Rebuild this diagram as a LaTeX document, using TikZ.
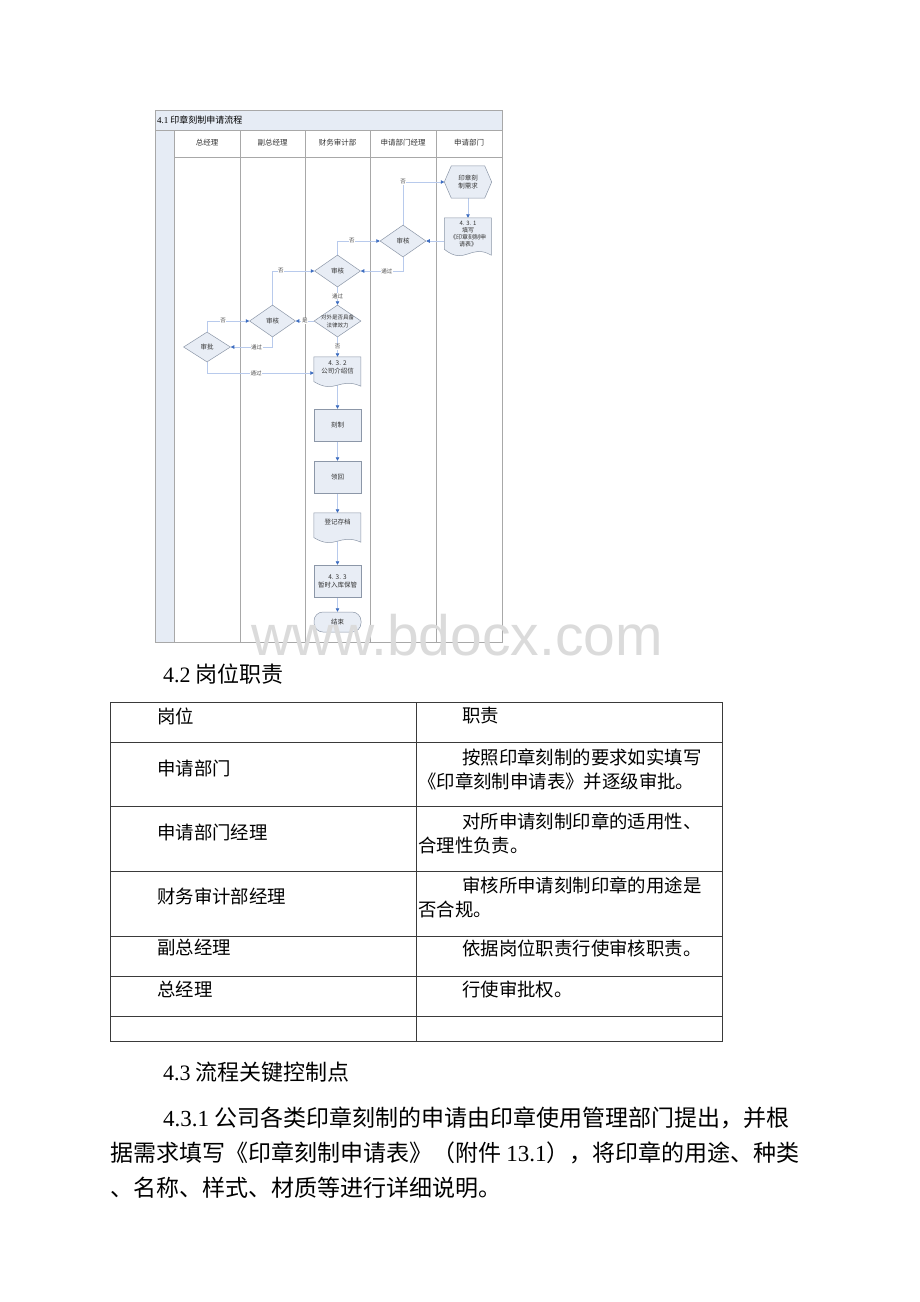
\documentclass[tikz,border=0pt]{standalone}
\usepackage{fontspec}
\setmainfont{Noto Sans CJK SC}
\newfontfamily\latn{Liberation Serif}
\newfontfamily\wmfont{Liberation Sans}
\usetikzlibrary{shapes.geometric,arrows.meta,calc}
\definecolor{shpfill}{HTML}{E8EDF5}
\definecolor{shpdraw}{HTML}{8C97A8}
\definecolor{connc}{HTML}{B8CAEC}
\definecolor{arrc}{HTML}{3C6CC0}
\definecolor{lanec}{HTML}{A8A8A8}
\definecolor{bandc}{HTML}{E6ECF5}
\definecolor{tblc}{HTML}{3A3A3A}
\pgfdeclarelayer{back}
\pgfdeclarelayer{bg}
\pgfdeclarelayer{mid}
\pgfsetlayers{back,bg,mid,main}
\newcommand\docshape[2]{%
  \begin{pgfonlayer}{mid}
  \begin{scope}[shift={(#1.north west)}]
  \draw[draw=shpdraw, fill=shpfill, line width=0.5pt] (0,0) -- (47,0) -- (47,{0.89*#2})
     .. controls ({0.55*47},{0.6*#2}) and ({0.45*47},{1.15*#2}) .. (0,{0.75*#2}) -- cycle;
  \end{scope}
  \end{pgfonlayer}}
\begin{document}
\begin{tikzpicture}[x=1pt,y=-1pt,
  ftxt/.style={font=\fontsize{6.5}{8}\selectfont, text=black!80, align=center, inner sep=0pt},
  box/.style={ftxt, draw=shpdraw, fill=shpfill, minimum width=47pt, minimum height=32pt, line width=0.5pt},
  dia/.style={ftxt, diamond, draw=shpdraw, fill=shpfill, minimum width=46pt, minimum height=32pt, line width=0.5pt},
  docn/.style={ftxt, minimum width=47pt},
  conn/.style={draw=connc, line width=0.55pt, -{Triangle[length=3.5pt,width=3.5pt,color=arrc]}},
  lab/.style={font=\fontsize{5.5}{6}\selectfont, text=black!70, fill=white, inner sep=0.6pt},
  hdr/.style={font=\fontsize{7.5}{9}\selectfont, text=black!80},
  tt/.style={font=\fontsize{18.4}{22}\selectfont, anchor=west, inner sep=0pt},
  bt/.style={font=\fontsize{23}{28}\selectfont, anchor=west, inner sep=0pt},
  tline/.style={draw=tblc, line width=0.9pt}
]
\useasboundingbox (0,0) rectangle (920,1302);
\begin{pgfonlayer}{back}
\fill[white] (0,0) rectangle (920,1302);
% ---------- flowchart frame ----------
\fill[bandc] (155,110) rectangle (502,130);
\fill[bandc] (155,130) rectangle (174,642);
\draw[lanec, line width=0.6pt] (155,110) rectangle (502,642);
\draw[lanec, line width=0.6pt] (155,130) -- (502,130);
\draw[lanec, line width=0.6pt] (174,157) -- (502,157);
\foreach \xx in {174,240,305,370,436} \draw[lanec, line width=0.6pt] (\xx,130) -- (\xx,642);
\end{pgfonlayer}
\node[anchor=west, inner sep=0pt, font=\fontsize{9}{10}\selectfont] (title) at (157,120) {{\latn 4.1} 印章刻制申请流程};
\node[hdr] (h1) at (207,143) {总经理};
\node[hdr] (h2) at (272.5,143) {副总经理};
\node[hdr] (h3) at (337.5,143) {财务审计部};
\node[hdr] (h4) at (403,143) {申请部门经理};
\node[hdr] (h5) at (469,143) {申请部门};

% ---------- nodes ----------
\node[ftxt, minimum width=47pt, minimum height=32pt] (hex) at (468,182) {印章刻\\制需求};
\begin{pgfonlayer}{mid}
\draw[draw=shpdraw, fill=shpfill, line width=0.5pt] (hex.west) -- ([xshift=7pt]hex.north west) -- ([xshift=-7pt]hex.north east) -- (hex.east) -- ([xshift=-7pt]hex.south east) -- ([xshift=7pt]hex.south west) -- cycle;
\end{pgfonlayer}
\node[docn, minimum height=40pt, font=\fontsize{6}{7}\selectfont] (d431) at (468,238) {4. 3. 1\\填写\\《印章刻制申\\请表》\\[2pt]};
\docshape{d431}{42}
\node[dia] (dia1) at (403,241) {审核};
\node[dia] (dia2) at (337.5,271) {审核};
\node[dia, minimum width=47pt] (dia3) at (337.5,321) {\makebox[0pt]{\fontsize{5.5}{6.5}\selectfont 对外是否具备}\\\makebox[0pt]{\fontsize{5.5}{6.5}\selectfont 法律效力}};
\node[dia] (dia4) at (272.5,321) {审核};
\node[dia, minimum width=47pt, minimum height=30pt] (dia5) at (207,347) {审批};
\node[docn, minimum height=32pt] (d432) at (337.5,373) {4. 3. 2\\公司介绍信\\[4pt]};
\docshape{d432}{33}
\node[box] (r1) at (337.5,425) {刻制};
\node[box] (r2) at (337.5,477) {领回};
\node[docn, minimum height=30pt] (reg) at (337.5,528) {登记存档\\[4pt]};
\docshape{reg}{33}
\node[box] (r3) at (337.5,581) {4. 3. 3\\暂时入库保管};
\node[box, minimum height=20pt, rounded corners=9pt] (fin) at (337.5,622) {结束};

% ---------- connectors ----------
\begin{pgfonlayer}{bg}
\draw[conn] (hex.south) -- (d431.north);
\draw[conn] (d431.west |- dia1.east) -- (dia1.east);
\draw[conn] (dia1.north) |- node[lab, pos=0.5] {否} (hex.west);
\draw[conn] (dia1.south) |- node[lab, pos=0.69] {通过} (dia2.east);
\draw[conn] (dia2.north) |- node[lab, pos=0.67] {否} (dia1.west);
\draw[conn] (dia4.north) |- node[lab, pos=0.6] {否} (dia2.west);
\draw[conn] (dia2.south) -- node[lab] {通过} (dia3.north);
\draw[conn] (dia3.west) -- node[lab] {是} (dia4.east);
\draw[conn] (dia3.south) -- node[lab] {否} (d432.north);
\draw[conn] (dia5.north) |- node[lab, pos=0.69] {否} (dia4.west);
\draw[conn] (dia4.south) |- node[lab, pos=0.69] {通过} (dia5.east);
\draw[conn] (dia5.south) |- node[lab, pos=0.73] {通过} (d432.west);
\draw[conn] (d432.center) -- (r1.north);
\draw[conn] (r1.south) -- (r2.north);
\draw[conn] (r2.south) -- (reg.north);
\draw[conn] (reg.center) -- (r3.north);
\draw[conn] (r3.south) -- (fin.north);
\end{pgfonlayer}

% ---------- watermark ----------
\node[anchor=base, inner sep=0pt, font=\wmfont\fontsize{57}{60}\selectfont, text=black!14] (wm) at (457,655) {www.bdocx.com};

% ---------- 4.2 ----------
\node[anchor=west, inner sep=0pt, font=\fontsize{22}{26}\selectfont] (h42) at (163,674) {{\latn 4.2} 岗位职责};
\draw[tline] (110,702) rectangle (722,1041);
\draw[tline] (416,702) -- (416,1041);
\foreach \yy in {742,806,871,936,976,1016} \draw[tline] (110,\yy) -- (722,\yy);
\node[tt] (c01) at (157,716) {岗位};
\node[tt] (c02) at (462,716) {职责};
\node[tt] (c11) at (157,768) {申请部门};
\node[tt] (c12) at (462,757) {按照印章刻制的要求如实填写};
\node[tt] (c13) at (418,781) {《印章刻制申请表》并逐级审批。};
\node[tt] (c21) at (157,832) {申请部门经理};
\node[tt] (c22) at (462,821) {对所申请刻制印章的适用性、};
\node[tt] (c23) at (418,845) {合理性负责。};
\node[tt] (c31) at (157,896) {财务审计部经理};
\node[tt] (c32) at (462,885) {审核所申请刻制印章的用途是};
\node[tt] (c33) at (418,909) {否合规。};
\node[tt] (c41) at (157,948) {副总经理};
\node[tt] (c42) at (462,948) {依据岗位职责行使审核职责。};
\node[tt] (c51) at (157,989) {总经理};
\node[tt] (c52) at (462,989) {行使审批权。};

% ---------- 4.3 ----------
\node[anchor=west, inner sep=0pt, font=\fontsize{22}{26}\selectfont] (h43) at (163,1072) {{\latn 4.3} 流程关键控制点};
\node[bt] (p1) at (163,1118) {{\latn 4.3.1} 公司各类印章刻制的申请由印章使用管理部门提出，并根};
\node[bt] (p2) at (110,1153) {据需求填写《印章刻制申请表》（附件 {\latn 13.1}），将印章的用途、种类};
\node[bt] (p3) at (110,1188) {、名称、样式、材质等进行详细说明。};
\end{tikzpicture}
\end{document}
